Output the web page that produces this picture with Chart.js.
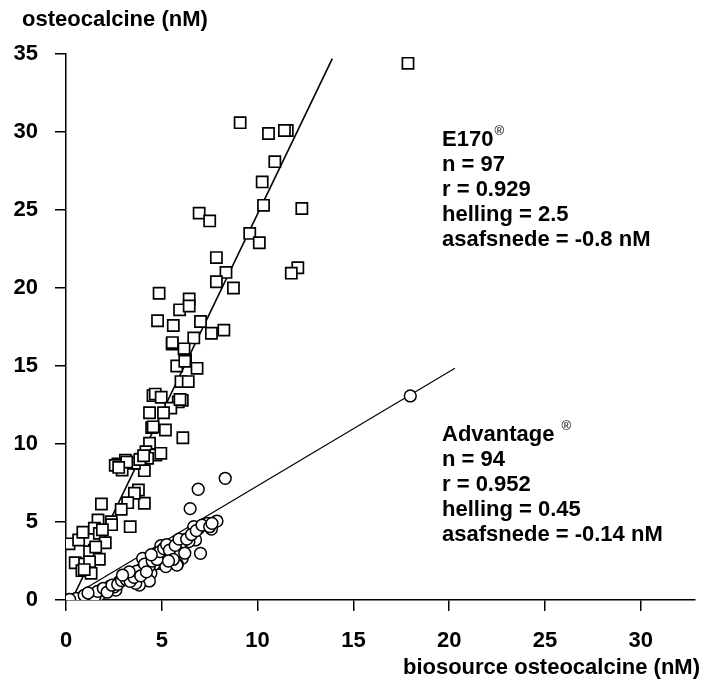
<!DOCTYPE html>
<html><head><meta charset="utf-8">
<script src="https://cdn.jsdelivr.net/npm/chart.js@4/dist/chart.umd.min.js"></script>
<style>html,body{margin:0;padding:0;background:#fff}#wrap{width:704px;height:681px}</style>
</head><body><div id="wrap"><canvas id="c" width="704" height="681"></canvas></div>
<script>
// E170 (squares)
const e170X = [17.85,9.09,10.57,11.55,11.4,10.9,10.24,10.31,12.31,6.95,7.5,9.59,10.09,7.85,12.1,11.76,8.35,7.85,8.74,4.86,
  6.43,5.93,6.43,4.78,5.6,7.02,7.59,8.24,6.67,5.54,6.16,6.24,5.78,6.84,6.0,6.38,4.54,4.66,4.97,6.07,
  5.86,5.47,4.36,5.09,4.47,5.19,6.1,4.36,4.17,4.69,4.95,4.26,3.91,3.74,4.09,3.57,3.1,2.71,2.93,3.17,
  2.57,3.78,4.09,3.57,3.22,2.88,1.85,1.67,2.36,3.35,0.16,0.66,0.88,1.48,1.74,2.38,2.05,1.48,1.23,1.74,
  0.48,0.97,1.23,0.83,1.31,1.9,1.55,0.95,3.85,4.05,2.75,4.55,5.95,6.2,5.55];
const e170Y = [34.4,30.6,29.9,30.1,30.1,28.1,26.8,25.3,25.1,24.8,24.3,23.5,22.9,21.95,21.3,20.95,21.0,20.4,20.0,19.66,
  19.3,18.6,18.85,17.9,17.6,17.85,17.1,17.3,16.8,16.4,16.1,15.4,15.0,14.85,14.0,14.0,13.1,13.2,13.0,12.8,
  12.7,12.3,12.0,12.0,11.05,10.9,10.4,10.05,9.5,9.29,9.4,9.08,9.02,8.76,8.29,8.76,8.97,8.72,8.33,8.85,
  8.63,7.05,6.2,6.84,6.24,5.81,6.15,5.13,5.02,4.7,3.6,3.85,4.34,4.6,4.27,4.83,3.67,3.2,3.1,2.61,
  2.39,2.31,2.46,1.88,1.71,4.5,3.4,1.95,9.0,9.25,8.5,11.1,12.85,15.3,16.5];
// Advantage (circles)
const advX = [17.97,8.31,6.9,6.48,7.88,7.59,7.36,6.93,6.67,6.76,6.41,6.16,7.02,5.98,6.07,5.81,5.55,5.46,4.95,5.03,
  4.86,4.52,4.86,4.6,4.35,4.0,4.43,4.35,3.83,4.0,5.64,5.81,5.29,5.21,5.79,4.67,4.33,3.98,3.81,3.47,
  3.64,3.29,3.04,2.78,2.6,2.52,2.26,2.09,1.83,1.74,1.57,1.4,1.31,1.05,0.79,0.53,0.19,1.2,1.5,1.65,
  1.95,2.15,2.4,2.7,2.9,3.15,3.35,3.55,3.7,3.9,4.1,4.2,4.5,4.75,4.9,5.1,5.25,5.4,5.7,5.9,
  6.3,6.55,6.8,7.1,7.5,5.6,5.35,6.2,4.45,3.3,2.95,0.95,1.15,7.62];
const advY = [13.08,7.8,7.1,5.86,5.06,4.55,4.91,4.6,4.7,3.85,3.74,3.85,2.99,3.31,2.67,2.29,3.42,2.88,3.48,2.88,
  2.78,2.67,2.35,2.29,2.24,2.67,1.71,1.22,0.96,1.92,3.31,3.1,2.78,2.14,2.24,2.88,2.14,2.03,1.71,1.71,
  1.07,1.5,1.39,1.17,0.64,0.85,0.85,0.64,0.64,0.32,0.43,0.04,0.26,0.17,0.04,0.1,0.04,0.1,0.2,0.55,
  0.75,0.5,0.95,1.0,1.25,1.3,1.2,1.45,1.85,1.55,2.3,1.8,2.5,2.6,3.1,3.3,3.55,3.2,3.5,3.9,
  3.9,4.2,4.45,4.8,4.7,2.6,2.5,3.0,2.9,1.8,1.6,0.3,0.45,4.91];
// regression lines (end points)
const e170LineX = [0.3, 13.9];
const e170LineY = [0, 34.7];
const advLineX = [0, 20.3];
const advLineY = [0, 14.85];
const xTicks = [0,5,10,15,20,25,30];
const yTicks = [0,5,10,15,20,25,30,35];
const e170Label = ['E170','n = 97','r = 0.929','helling = 2.5','asafsnede = -0.8 nM'];
const advLabel = ['Advantage','n = 94','r = 0.952','helling = 0.45','asafsnede = -0.14 nM'];
const yTitle = 'osteocalcine (nM)';
const xTitle = 'biosource osteocalcine (nM)';

const pts = (xs, ys) => xs.map((x, i) => ({x, y: ys[i]}));
const FONT = '"Liberation Sans", Arial, sans-serif';

const textPlugin = {
  id: 'texts',
  afterDraw(chart) {
    const ctx = chart.ctx;
    ctx.save();
    ctx.fillStyle = '#000';
    ctx.font = 'bold 22px ' + FONT;
    ctx.textBaseline = 'alphabetic';
    ctx.textAlign = 'left';
    ctx.fillText(yTitle, 22, 26);
    ctx.textAlign = 'right';
    ctx.fillText(xTitle, 700, 674);
    ctx.textAlign = 'left';
    const drawBlock = (lines, x, y0, regGap) => {
      lines.forEach((t, i) => {
        ctx.font = 'bold 22px ' + FONT;
        ctx.fillText(t, x, y0 + i * 25);
        if (i === 0) {
          const w = ctx.measureText(t).width;
          ctx.font = '13px ' + FONT;
          ctx.fillText('\u00AE', x + w + regGap, y0 - 11);
        }
      });
    };
    drawBlock(e170Label, 442, 146, 1);
    drawBlock(advLabel, 442, 441, 7);
    ctx.restore();
  }
};

new Chart(document.getElementById('c'), {
  type: 'scatter',
  data: {
    datasets: [
      {label: 'E170', data: pts(e170X, e170Y), pointStyle: 'rect', pointRadius: 7.9,
       backgroundColor: '#fff', borderColor: '#000', borderWidth: 1.7, order: 1},
      {label: 'Advantage', data: pts(advX, advY), pointStyle: 'circle', pointRadius: 5.9,
       backgroundColor: '#fff', borderColor: '#000', borderWidth: 1.5, order: 1},
      {label: 'E170 fit', type: 'line', data: pts(e170LineX, e170LineY), showLine: true, pointRadius: 0,
       borderColor: '#000', borderWidth: 1.6, fill: false, order: 3},
      {label: 'Advantage fit', type: 'line', data: pts(advLineX, advLineY), showLine: true, pointRadius: 0,
       borderColor: '#000', borderWidth: 1.1, fill: false, order: 3}
    ]
  },
  options: {
    responsive: false,
    devicePixelRatio: 1,
    animation: false,
    layout: {padding: {left: 0, right: 4, top: 54, bottom: 0}},
    plugins: {legend: {display: false}, tooltip: {enabled: false}},
    elements: {point: {hoverRadius: 0}},
    scales: {
      x: {
        type: 'linear', min: 0, max: 32.8,
        afterBuildTicks: (a) => { a.ticks = xTicks.map(v => ({value: v})); },
        afterFit: (s) => { s.height = 81; },
        grid: {drawOnChartArea: false, drawTicks: true, tickLength: 11, color: '#000', lineWidth: 1.5},
        border: {display: true, color: '#000', width: 1.5},
        ticks: {color: '#000', padding: 17, maxRotation: 0, autoSkip: false,
                font: {family: FONT, size: 22, weight: 'bold'}}
      },
      y: {
        type: 'linear', min: 0, max: 35,
        afterBuildTicks: (a) => { a.ticks = yTicks.map(v => ({value: v})); },
        afterFit: (s) => { s.width = 66; },
        grid: {drawOnChartArea: false, drawTicks: true, tickLength: 11, color: '#000', lineWidth: 1.5},
        border: {display: true, color: '#000', width: 1.5},
        ticks: {color: '#000', padding: 17, autoSkip: false,
                font: {family: FONT, size: 22, weight: 'bold'}}
      }
    }
  },
  plugins: [textPlugin]
});
</script></body></html>
